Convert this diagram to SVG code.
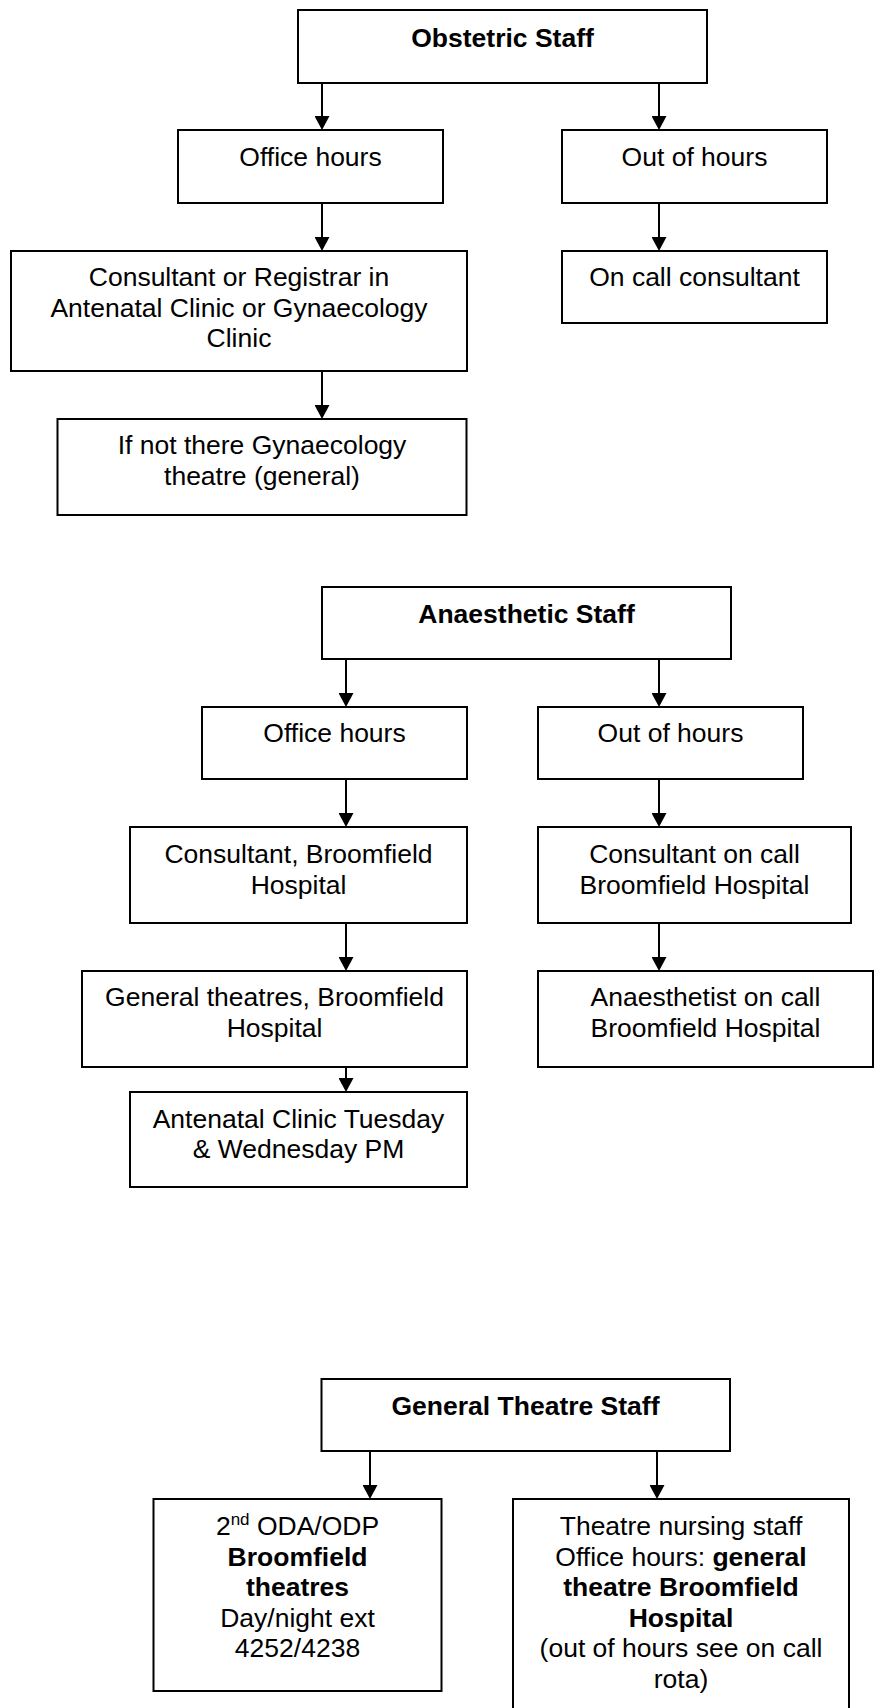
<svg xmlns="http://www.w3.org/2000/svg" width="875" height="1708" viewBox="0 0 875 1708">
<style>
.box{fill:#fff;stroke:#000;stroke-width:2}
.t{font-family:"Liberation Sans",Arial,sans-serif;font-size:26.5px;fill:#000;text-anchor:middle}
.b{font-weight:bold}
.c{stroke:#000;stroke-width:2;fill:none;marker-end:url(#ah)}
</style>
<defs>
<marker id="ah" markerUnits="userSpaceOnUse" viewBox="0 0 14 15" refX="0" refY="7.5" markerWidth="14" markerHeight="15" orient="auto">
<path d="M0,0 L14,7.5 L0,15 Z" fill="#000"/>
</marker>
</defs>
<rect width="875" height="1708" fill="#fff"/>
<g id="connectors">
<line class="c" x1="322" y1="83" x2="322" y2="116"/>
<line class="c" x1="659" y1="83" x2="659" y2="116"/>
<line class="c" x1="322" y1="203" x2="322" y2="237"/>
<line class="c" x1="659" y1="203" x2="659" y2="237"/>
<line class="c" x1="322" y1="371" x2="322" y2="405"/>
<line class="c" x1="346" y1="659" x2="346" y2="693"/>
<line class="c" x1="659" y1="659" x2="659" y2="693"/>
<line class="c" x1="346" y1="779" x2="346" y2="813"/>
<line class="c" x1="659" y1="779" x2="659" y2="813"/>
<line class="c" x1="346" y1="923" x2="346" y2="957"/>
<line class="c" x1="659" y1="923" x2="659" y2="957"/>
<line class="c" x1="346" y1="1067" x2="346" y2="1078"/>
<line class="c" x1="370" y1="1451" x2="370" y2="1485"/>
<line class="c" x1="657" y1="1451" x2="657" y2="1485"/>
</g>
<g id="obstetric-staff">
<rect class="box" x="298" y="10" width="409" height="73"/>
<text class="t b" x="502.5" y="47">Obstetric Staff</text>
</g>
<g id="obs-office-hours">
<rect class="box" x="178" y="130" width="265" height="73"/>
<text class="t" x="310.5" y="166">Office hours</text>
</g>
<g id="obs-out-of-hours">
<rect class="box" x="562" y="130" width="265" height="73"/>
<text class="t" x="694.5" y="166">Out of hours</text>
</g>
<g id="obs-consultant">
<rect class="box" x="11" y="251" width="456" height="120"/>
<text class="t" x="239" y="286">Consultant or Registrar in</text>
<text class="t" x="239" y="316.5">Antenatal Clinic or Gynaecology</text>
<text class="t" x="239" y="347">Clinic</text>
</g>
<g id="obs-on-call">
<rect class="box" x="562" y="251" width="265" height="72"/>
<text class="t" x="694.5" y="286">On call consultant</text>
</g>
<g id="obs-if-not-there">
<rect class="box" x="57.5" y="419" width="409" height="96"/>
<text class="t" x="262" y="454">If not there Gynaecology</text>
<text class="t" x="262" y="484.5">theatre (general)</text>
</g>
<g id="anaesthetic-staff">
<rect class="box" x="322" y="587" width="409" height="72"/>
<text class="t b" x="526.5" y="623">Anaesthetic Staff</text>
</g>
<g id="an-office-hours">
<rect class="box" x="202" y="707" width="265" height="72"/>
<text class="t" x="334.5" y="742">Office hours</text>
</g>
<g id="an-out-of-hours">
<rect class="box" x="538" y="707" width="265" height="72"/>
<text class="t" x="670.5" y="742">Out of hours</text>
</g>
<g id="an-consultant">
<rect class="box" x="130" y="827" width="337" height="96"/>
<text class="t" x="298.5" y="863">Consultant, Broomfield</text>
<text class="t" x="298.5" y="893.5">Hospital</text>
</g>
<g id="an-consultant-on-call">
<rect class="box" x="538" y="827" width="313" height="96"/>
<text class="t" x="694.5" y="863">Consultant on call</text>
<text class="t" x="694.5" y="893.5">Broomfield Hospital</text>
</g>
<g id="an-general-theatres">
<rect class="box" x="82" y="971" width="385" height="96"/>
<text class="t" x="274.5" y="1006">General theatres, Broomfield</text>
<text class="t" x="274.5" y="1036.5">Hospital</text>
</g>
<g id="an-anaesthetist-on-call">
<rect class="box" x="538" y="971" width="335" height="96"/>
<text class="t" x="705.5" y="1006">Anaesthetist on call</text>
<text class="t" x="705.5" y="1036.5">Broomfield Hospital</text>
</g>
<g id="an-antenatal">
<rect class="box" x="130" y="1092" width="337" height="95"/>
<text class="t" x="298.5" y="1128">Antenatal Clinic Tuesday</text>
<text class="t" x="298.5" y="1158">&amp; Wednesday PM</text>
</g>
<g id="general-theatre-staff">
<rect class="box" x="321.5" y="1379" width="408.5" height="72"/>
<text class="t b" x="525.5" y="1415">General Theatre Staff</text>
</g>
<g id="gt-oda-odp">
<rect class="box" x="153.5" y="1499" width="288" height="192"/>
<text class="t" x="297.5" y="1535">2<tspan font-size="17" dy="-10">nd</tspan><tspan dy="10"> ODA/ODP</tspan></text>
<text class="t b" x="297.5" y="1565.5">Broomfield</text>
<text class="t b" x="297.5" y="1596">theatres</text>
<text class="t" x="297.5" y="1626.5">Day/night ext</text>
<text class="t" x="297.5" y="1657">4252/4238</text>
</g>
<g id="gt-nursing">
<rect class="box" x="513" y="1499" width="336" height="215"/>
<text class="t" x="681" y="1535">Theatre nursing staff</text>
<text class="t" x="681" y="1565.5">Office hours: <tspan class="b">general</tspan></text>
<text class="t b" x="681" y="1596">theatre Broomfield</text>
<text class="t b" x="681" y="1626.5">Hospital</text>
<text class="t" x="681" y="1657">(out of hours see on call</text>
<text class="t" x="681" y="1687.5">rota)</text>
</g>
</svg>
